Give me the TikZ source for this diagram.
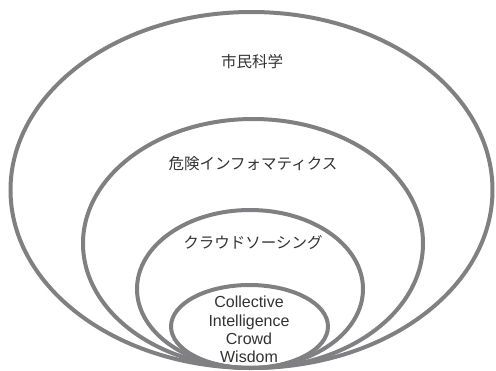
\documentclass[tikz,border=0pt]{standalone}
\usepackage{fontspec}
\setmainfont{Liberation Sans}
\newfontfamily\cjk{Noto Sans CJK JP}
\definecolor{ring}{RGB}{128,128,131}
\definecolor{txt}{RGB}{50,50,50}
\begin{document}
\begin{tikzpicture}[x=1pt,y=-1pt,
  ringline/.style={draw=ring,line width=4pt},
  jlabel/.style={anchor=base,text=txt,inner sep=0pt,font=\cjk\fontsize{15.5}{18}\selectfont},
  elabel/.style={anchor=base,text=txt,inner sep=0pt,font=\fontsize{16}{18}\selectfont}]
\useasboundingbox (0,0) rectangle (496,370);
\draw[ringline] (251.5,190) ellipse [x radius=241, y radius=178];
\draw[ringline] (253,243.5) ellipse [x radius=170, y radius=124.5];
\draw[ringline] (250,289) ellipse [x radius=113, y radius=79];
\draw[ringline] (249.5,326.5) ellipse [x radius=78.5, y radius=41.5];
\node[jlabel] (citizen) at (252,67.5) {市民科学};
\node[jlabel] (hazard) at (253,169) {危険インフォマティクス};
\node[jlabel] (crowdsrc) at (253,248.5) {クラウドソーシング};
\node[elabel] (l1) at (249,307.5) {Collective};
\node[elabel] (l2) at (249,326) {Intelligence};
\node[elabel] (l3) at (249,344) {Crowd};
\node[elabel] (l4) at (249,362) {Wisdom};
\end{tikzpicture}
\end{document}
